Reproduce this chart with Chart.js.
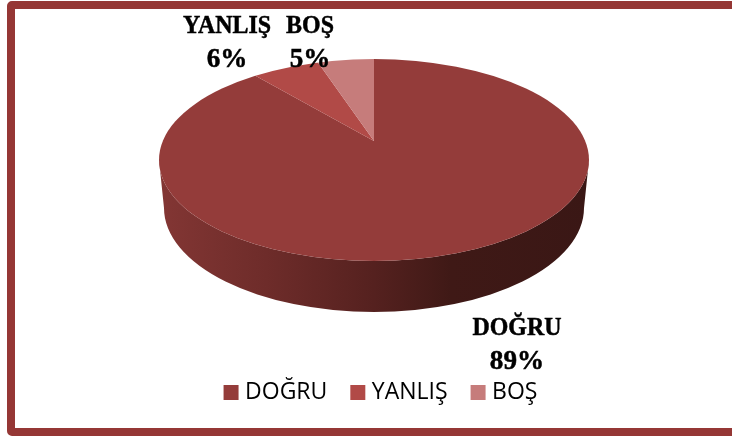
<!DOCTYPE html>
<html><head><meta charset="utf-8">
<script src="https://cdn.jsdelivr.net/npm/chart.js@4"></script>
<style>
html,body{margin:0;padding:0;background:#fff;overflow:hidden}
#wrap{position:relative;width:732px;height:436px;overflow:hidden}
#frame{position:absolute;left:7px;top:1px;width:740px;height:419px;border:8px solid #953735;border-radius:5px;box-sizing:content-box}
canvas{position:absolute;left:0;top:0}
</style></head><body>
<div id="wrap"><div id="frame"></div><canvas id="c" width="732" height="436"></canvas></div>
<script>
const categories = ['DOĞRU', 'YANLIŞ', 'BOŞ'];
const values = [89, 6, 5];
const percentLabels = ['89%', '6%', '5%'];
const colors = ['#943C3A', '#B14A47', '#C67C7B'];

// 3-D look: the top face outline, the apex of the wedges and the lower rim
const top3d = {cx: 374, cy: 160, rx: 215, ry: 101};
const rim3d = {cx: 374, cy: 208, rx: 210, ry: 104};
const apex3d = {x: 374, y: 141, sx: 290, sy: 132};
const labelPlaces = [{x: 517, y: 335}, {x: 227, y: 33}, {x: 310, y: 33}];

function squeezedText(c, text, x, y, font, squeeze) {
  c.save();
  c.translate(x, y);
  c.scale(squeeze, 1);
  c.font = font;
  c.lineWidth = 0.5;
  c.strokeStyle = '#000';
  c.fillText(text, 0, 0);
  c.strokeText(text, 0, 0);
  c.restore();
}

const pie3d = {
  id: 'pie3d',
  beforeDatasetsDraw(chart) {
    const c = chart.ctx;
    const g = c.createLinearGradient(top3d.cx - top3d.rx, 0, top3d.cx + top3d.rx, 0);
    g.addColorStop(0, '#833634');
    g.addColorStop(0.25, '#6E2C2A');
    g.addColorStop(0.5, '#55211F');
    g.addColorStop(0.68, '#3F1916');
    g.addColorStop(1, '#3A1715');
    c.save();
    c.beginPath();
    c.ellipse(top3d.cx, top3d.cy, top3d.rx, top3d.ry, 0, Math.PI, 0, true);
    c.lineTo(rim3d.cx + rim3d.rx, rim3d.cy);
    c.ellipse(rim3d.cx, rim3d.cy, rim3d.rx, rim3d.ry, 0, 0, Math.PI, false);
    c.closePath();
    c.fillStyle = g;
    c.fill();
    c.restore();
  },
  beforeDatasetDraw(chart) {
    const c = chart.ctx;
    const a = chart.getDatasetMeta(0).data[0];
    c.save();
    c.beginPath();
    c.ellipse(top3d.cx, top3d.cy, top3d.rx, top3d.ry, 0, 0, Math.PI * 2);
    c.clip();
    c.translate(apex3d.x, apex3d.y);
    c.scale(apex3d.sx / a.outerRadius, apex3d.sy / a.outerRadius);
    c.translate(-a.x, -a.y);
  },
  afterDatasetDraw(chart) {
    const c = chart.ctx;
    c.restore();
    c.save();
    c.fillStyle = '#000';
    c.textAlign = 'center';
    c.textBaseline = 'alphabetic';
    categories.forEach((name, i) => {
      const p = labelPlaces[i];
      squeezedText(c, name, p.x, p.y, 'bold 26px "Liberation Serif"', 0.92);
      squeezedText(c, percentLabels[i], p.x, p.y + 33.5, 'bold 28px "Liberation Serif"', 0.97);
    });
    c.restore();
  }
};

new Chart(document.getElementById('c'), {
  type: 'pie',
  data: {labels: categories, datasets: [{data: values, backgroundColor: colors, borderWidth: 0}]},
  plugins: [pie3d],
  options: {
    responsive: false,
    animation: false,
    layout: {padding: {top: 10, bottom: 22, left: 34}},
    plugins: {
      tooltip: {enabled: false},
      legend: {
        position: 'bottom',
        labels: {
          color: '#000',
          font: {family: 'Open Sans', size: 23},
          boxWidth: 5, boxHeight: 5, padding: 28,
          generateLabels(chart) {
            return Chart.overrides.pie.plugins.legend.labels.generateLabels(chart).map(item => {
              item.strokeStyle = item.fillStyle;
              item.lineWidth = 10;
              return item;
            });
          }
        }
      }
    }
  }
});
</script>
</body></html>
